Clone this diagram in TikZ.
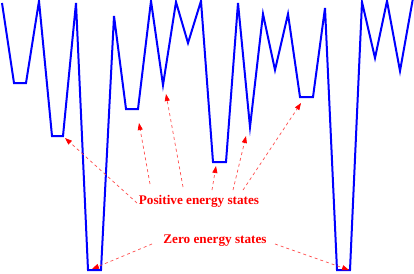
\documentclass[tikz,border=0pt]{standalone}
\usepackage{fontspec}
\setmainfont{Liberation Serif}
\usetikzlibrary{arrows.meta}
\definecolor{wblue}{RGB}{0,0,255}
\definecolor{wred}{RGB}{255,0,0}
\tikzset{
  wellline/.style={draw=wblue, line width=2pt, line join=miter},
  lbl/.style={text=wred, font=\fontsize{13.2}{14}\selectfont\bfseries, inner sep=0pt, anchor=base},
  ptr/.style={draw=wred!70, line width=0.7pt, dash pattern=on 3pt off 3pt,
    -{Triangle[length=7pt,width=5pt,fill=wred,color=wred]}, shorten >=0pt},
}
\begin{document}
\begin{tikzpicture}[x=1pt,y=-1pt]
\useasboundingbox (0,0) rectangle (414,273);
% energy landscape
\draw[wellline] (2,3) -- (14,83) -- (26,83) -- (39,1) -- (52,136) -- (63,136) -- (76,3)
  -- (88,270) -- (101,270) -- (114,16) -- (126,109) -- (138,109) -- (151,1) -- (163,85)
  -- (176,2) -- (188,43) -- (201,1) -- (213,162) -- (226,162) -- (238,3) -- (250,127)
  -- (263,14) -- (275,70) -- (288,14) -- (300,97) -- (313,97) -- (325,8) -- (337,270)
  -- (350,270) -- (362,2) -- (375,58) -- (387,1) -- (400,71) -- (413,-2);
% labels
\node[lbl] (pos) at (199,204) {Positive energy states};
\node[lbl] (zero) at (215,243) {Zero energy states};
% start points
\coordinate (p1) at (137,203);
\coordinate (p2) at (150,184);
\coordinate (p3) at (183,187);
\coordinate (p4) at (212,190);
\coordinate (p5) at (233,190);
\coordinate (p6) at (243,190);
\coordinate (z1) at (152,244);
\coordinate (z2) at (275,244);
% targets
\coordinate (t1) at (65,138);
\coordinate (t2) at (139,123);
\coordinate (t3) at (166,94);
\coordinate (t4) at (216,166);
\coordinate (t5) at (246,136);
\coordinate (t6) at (301,103);
\coordinate (t7) at (92,269);
\coordinate (t8) at (349,270);
\foreach \s/\t in {p1/t1,p2/t2,p3/t3,p4/t4,p5/t5,p6/t6,z1/t7,z2/t8}
  \draw[ptr] (\s) -- (\t);
\end{tikzpicture}
\end{document}
